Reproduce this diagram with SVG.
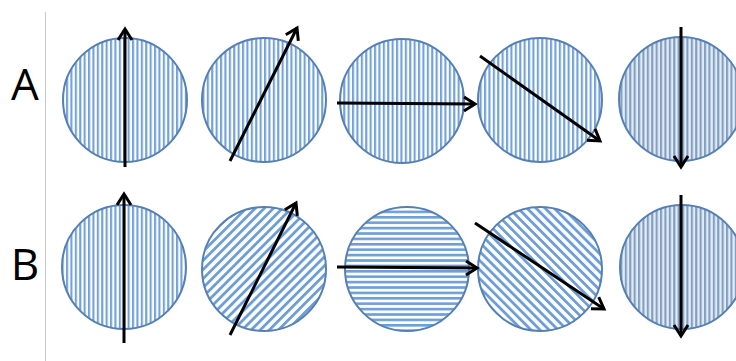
<svg xmlns="http://www.w3.org/2000/svg" width="736" height="361" viewBox="0 0 736 361">
<style>
.lbl{font-family:"Open Sans","Liberation Sans",sans-serif;font-size:44px;fill:#000;text-anchor:middle}
.disc{stroke:#5680b4;stroke-width:2}
.arr{stroke:#000;stroke-width:3;fill:none;marker-end:url(#head)}
</style>
<defs>
<pattern id="pv" patternUnits="userSpaceOnUse" width="4.4" height="10"><rect width="4.4" height="10" fill="#fdfeff"/><rect x="0" width="2.1" height="10" fill="#73a1d8"/></pattern>
<pattern id="pg" patternUnits="userSpaceOnUse" width="4.4" height="10"><rect width="4.4" height="10" fill="#e2eaf3"/><rect x="0" width="2.1" height="10" fill="#819fc2"/></pattern>
<pattern id="ph" patternUnits="userSpaceOnUse" width="10" height="5.4"><rect width="10" height="5.4" fill="#fdfeff"/><rect y="0" width="10" height="2.6" fill="#6f9ed6"/></pattern>
<pattern id="pd1" patternUnits="userSpaceOnUse" width="6.4" height="10" patternTransform="rotate(45)"><rect width="6.4" height="10" fill="#fdfeff"/><rect x="0" width="2.8" height="10" fill="#6f9ed6"/></pattern>
<pattern id="pd2" patternUnits="userSpaceOnUse" width="6.4" height="10" patternTransform="rotate(-45)"><rect width="6.4" height="10" fill="#fdfeff"/><rect x="0" width="2.8" height="10" fill="#6f9ed6"/></pattern>
<marker id="head" markerUnits="userSpaceOnUse" markerWidth="20" markerHeight="20" refX="0" refY="0" viewBox="-14 -10 20 20" orient="auto" overflow="visible"><path d="M-11,-7 L0,0 L-11,7" fill="none" stroke="#000" stroke-width="3"/></marker>
</defs>
<line x1="45.5" y1="12" x2="45.5" y2="361" stroke="#c8c8c8" stroke-width="1"/>
<text id="labelA" class="lbl" x="25" y="100">A</text>
<text id="labelB" class="lbl" x="25" y="280">B</text>
<g id="A1"><circle class="disc" cx="125" cy="100" r="62" fill="url(#pv)"/></g>
<g id="A2"><circle class="disc" cx="264" cy="100" r="62" fill="url(#pv)"/></g>
<g id="A3"><circle class="disc" cx="402" cy="101" r="62" fill="url(#pv)"/></g>
<g id="A4"><circle class="disc" cx="540" cy="100" r="62" fill="url(#pv)"/></g>
<g id="A5"><circle class="disc" cx="681" cy="99" r="62" fill="url(#pg)"/></g>
<g id="B1"><circle class="disc" cx="124" cy="267" r="62" fill="url(#pv)"/></g>
<g id="B2"><circle class="disc" cx="264" cy="269" r="62" fill="url(#pd1)"/></g>
<g id="B3"><circle class="disc" cx="407" cy="269" r="62" fill="url(#ph)"/></g>
<g id="B4"><circle class="disc" cx="540" cy="269" r="62" fill="url(#pd2)"/></g>
<g id="B5"><circle class="disc" cx="682" cy="267" r="62" fill="url(#pg)"/></g>
<g id="connectors">
<line class="arr" x1="125" y1="167" x2="125" y2="29"/>
<line class="arr" x1="230" y1="161" x2="297" y2="28"/>
<line class="arr" x1="337" y1="103" x2="475" y2="104"/>
<line class="arr" x1="480" y1="56" x2="600" y2="141"/>
<line class="arr" x1="681" y1="27" x2="681" y2="167"/>
<line class="arr" x1="124" y1="343" x2="124" y2="194"/>
<line class="arr" x1="230" y1="335" x2="296" y2="203"/>
<line class="arr" x1="337" y1="267" x2="477" y2="268"/>
<line class="arr" x1="475" y1="223" x2="604" y2="309"/>
<line class="arr" x1="681" y1="195" x2="681" y2="336"/>
</g>
</svg>
